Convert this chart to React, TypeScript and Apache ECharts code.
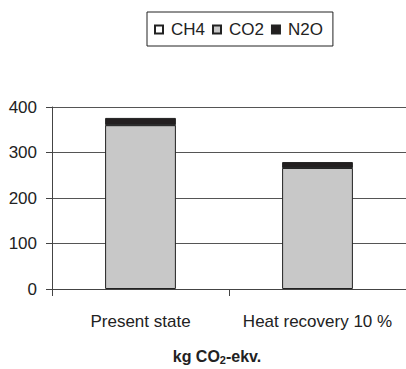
import React, { useEffect, useRef } from "react";
import * as echarts from "echarts";

const categories = ["Present state", "Heat recovery 10 %"];
const ch4Values = [1, 1];
const co2Values = [360, 266];
const n2oValues = [15, 12];
const yTicks = [0, 100, 200, 300, 400];

const FONT = "'Liberation Sans', Arial, sans-serif";

export default function App() {
  const ref = useRef<HTMLDivElement>(null);
  useEffect(() => {
    if (!ref.current) return;
    const chart = echarts.init(ref.current, null, { renderer: "svg" });
    const barStyle = (color: string) => ({
      color,
      borderColor: "#222",
      borderWidth: 1,
    });
    chart.setOption({
      animation: false,
      backgroundColor: "#fff",
      textStyle: { fontFamily: FONT },
      grid: { left: 52, top: 107, width: 360, height: 182, containLabel: false },
      legend: {
        data: ["CH4", "CO2", "N2O"],
        left: 147,
        top: 12,
        itemWidth: 8,
        itemHeight: 8,
        itemGap: 7,
        padding: [9, 10, 8, 7],
        borderColor: "#222",
        borderWidth: 1,
        icon: "rect",
        textStyle: { fontSize: 17, color: "#222", fontFamily: FONT, padding: [0, 0, 0, 3] },
      },
      xAxis: {
        type: "category",
        data: categories,
        axisLine: { lineStyle: { color: "#444", width: 1 } },
        axisTick: { show: true, length: 7, lineStyle: { color: "#444" } },
        axisLabel: { interval: 0, fontSize: 17, color: "#222", margin: 24, fontFamily: FONT },
      },
      yAxis: {
        type: "value",
        min: yTicks[0],
        max: yTicks[yTicks.length - 1],
        interval: 100,
        axisLine: { show: true, lineStyle: { color: "#444", width: 1 } },
        axisTick: { show: true, length: 6, lineStyle: { color: "#444" } },
        axisLabel: { fontSize: 17, color: "#222", margin: 15, fontFamily: FONT },
        splitLine: { show: true, lineStyle: { color: "#555", width: 1 } },
      },
      series: [
        {
          name: "CO2",
          type: "bar",
          stack: "total",
          barWidth: "40%",
          data: co2Values,
          itemStyle: barStyle("#c8c8c8"),
        },
        {
          name: "CH4",
          type: "bar",
          stack: "total",
          data: ch4Values,
          itemStyle: barStyle("#ffffff"),
        },
        {
          name: "N2O",
          type: "bar",
          stack: "total",
          data: n2oValues,
          itemStyle: barStyle("#231f20"),
        },
      ],
      graphic: [
        {
          type: "text",
          x: 217,
          y: 356,
          style: {
            text: "{b|kg CO}{s|2}{b|-ekv.}",
            align: "center",
            verticalAlign: "middle",
            rich: {
              b: { fontFamily: FONT, fontWeight: "bold", fontSize: 16, fill: "#222" },
              s: { fontFamily: FONT, fontWeight: "bold", fontSize: 11, fill: "#222", padding: [8, 0, 0, 0] },
            },
          },
        },
      ],
    });
    return () => chart.dispose();
  }, []);
  return (
    <div
      ref={ref}
      style={{ position: "absolute", left: 0, top: 0, width: 406, height: 369 }}
    />
  );
}
